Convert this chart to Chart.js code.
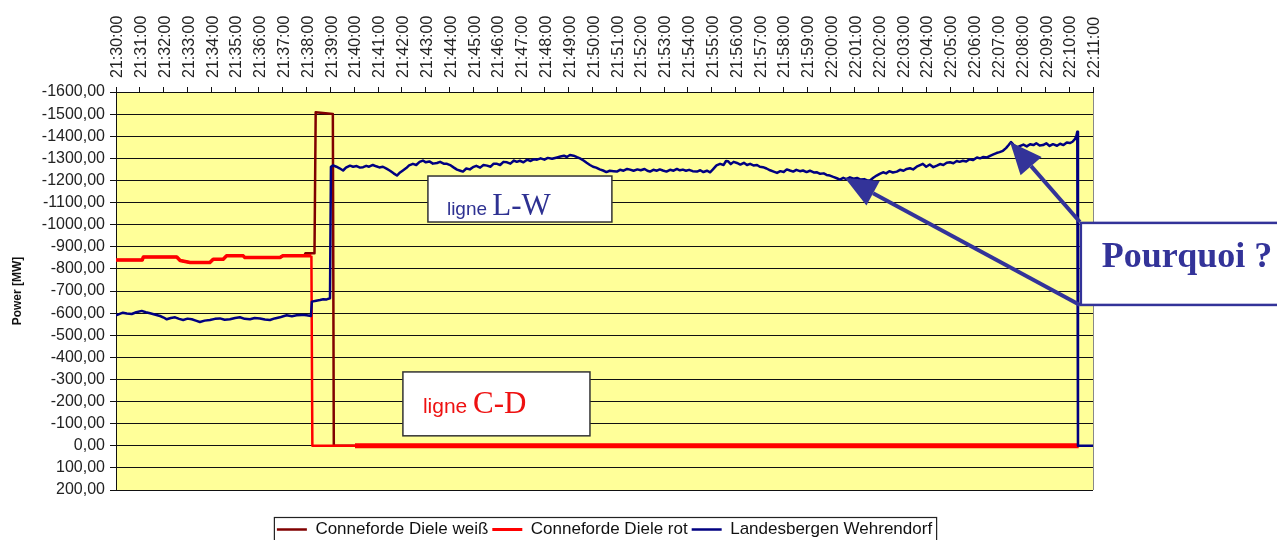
<!DOCTYPE html>
<html>
<head>
<meta charset="utf-8">
<script src="https://cdn.jsdelivr.net/npm/chart.js@4.4.0/dist/chart.umd.min.js"></script>
<style>
  html, body { margin: 0; padding: 0; background: #fff; }
  #wrap { position: relative; width: 1277px; height: 540px; }
</style>
</head>
<body>
<div id="wrap"><canvas id="powerChart" width="1277" height="540"></canvas></div>
<script>
// Time axis: minutes after 21:30:00
const tickLabels = [
  "21:30:00", "21:31:00", "21:32:00", "21:33:00", "21:34:00", "21:35:00", "21:36:00",
  "21:37:00", "21:38:00", "21:39:00", "21:40:00", "21:41:00", "21:42:00", "21:43:00",
  "21:44:00", "21:45:00", "21:46:00", "21:47:00", "21:48:00", "21:49:00", "21:50:00",
  "21:51:00", "21:52:00", "21:53:00", "21:54:00", "21:55:00", "21:56:00", "21:57:00",
  "21:58:00", "21:59:00", "22:00:00", "22:01:00", "22:02:00", "22:03:00", "22:04:00",
  "22:05:00", "22:06:00", "22:07:00", "22:08:00", "22:09:00", "22:10:00", "22:11:00"
];

const seriesNames = ["Conneforde Diele weiß", "Conneforde Diele rot", "Landesbergen Wehrendorf"];

// Conneforde Diele weiß (mostly hidden behind "rot" until the trip)
const weissMinutes = [0, 1.10, 1.15, 2.55, 2.69, 3.11, 3.94, 4.08, 4.50, 4.64, 5.34, 5.41, 6.88, 7.00, 7.90,
  7.95, 8.33, 8.38, 9.10, 9.14, 40.40];
const weissValues = [-840, -840, -854, -854, -838, -829, -829, -844, -844, -859, -859, -851, -851, -859, -859,
  -871, -871, -1508, -1500, 0, 0];

// Conneforde Diele rot
const rotMinutes = [0, 1.10, 1.15, 2.55, 2.69, 3.11, 3.94, 4.08, 4.50, 4.64, 5.34, 5.41, 6.88, 7.00, 8.20,
  8.24, 10.03, 40.40];
const rotValues = [-840, -840, -854, -854, -838, -829, -829, -844, -844, -859, -859, -851, -851, -859, -859,
  0, 0, 0];

// Landesbergen Wehrendorf
const lwMinutes = [
  0.00, 0.29, 0.45, 0.66, 0.85, 1.08, 1.25, 1.43, 1.62, 1.85, 2.00, 2.13, 2.30, 2.48, 2.65, 2.82,
  3.00, 3.18, 3.35, 3.52, 3.72, 3.94, 4.15, 4.36, 4.56, 4.78, 5.00, 5.20, 5.40, 5.62, 5.82, 6.04,
  6.25, 6.46, 6.66, 6.88, 7.02, 7.16, 7.38, 7.58, 7.80, 8.00, 8.18, 8.22, 8.40, 8.56, 8.70, 8.84,
  8.98, 9.02, 9.11, 9.25, 9.38, 9.53, 9.65, 9.82, 9.95, 10.10, 10.24, 10.37, 10.50, 10.62, 10.78,
  10.92, 11.05, 11.20, 11.37, 11.50, 11.65, 11.79, 11.92, 12.04, 12.18, 12.30, 12.46, 12.60, 12.74,
  12.88, 13.00, 13.15, 13.30, 13.47, 13.60, 13.75, 13.89, 14.05, 14.18, 14.31, 14.45, 14.56, 14.70,
  14.85, 14.98, 15.12, 15.28, 15.42, 15.57, 15.72, 15.85, 15.99, 16.12, 16.26, 16.41, 16.55, 16.70,
  16.82, 16.95, 17.10, 17.25, 17.40, 17.55, 17.67, 17.82, 17.98, 18.12, 18.30, 18.51, 18.65, 18.80,
  18.92, 19.05, 19.20, 19.35, 19.47, 19.62, 19.75, 19.89, 20.02, 20.15, 20.30, 20.44, 20.58, 20.72,
  20.88, 21.02, 21.15, 21.30, 21.45, 21.57, 21.72, 21.88, 22.02, 22.18, 22.30, 22.41, 22.55, 22.70,
  22.82, 22.95, 23.10, 23.25, 23.40, 23.54, 23.66, 23.79, 23.92, 24.05, 24.20, 24.38, 24.52, 24.65,
  24.80, 24.93, 25.05, 25.20, 25.35, 25.50, 25.60, 25.68, 25.80, 25.92, 26.06, 26.20, 26.35, 26.48,
  26.61, 26.75, 26.90, 27.02, 27.15, 27.30, 27.45, 27.60, 27.74, 27.88, 28.02, 28.15, 28.28, 28.42,
  28.55, 28.70, 28.83, 28.98, 29.12, 29.28, 29.42, 29.55, 29.70, 29.82, 29.96, 30.10, 30.25, 30.38,
  30.52, 30.65, 30.80, 30.95, 31.10, 31.25, 31.40, 31.52, 31.64, 31.78, 31.92, 32.05, 32.19, 32.32,
  32.45, 32.60, 32.77, 32.90, 33.05, 33.18, 33.32, 33.45, 33.60, 33.72, 33.86, 34.00, 34.15, 34.30,
  34.45, 34.58, 34.72, 34.86, 35.00, 35.14, 35.28, 35.40, 35.54, 35.68, 35.82, 35.96, 36.13, 36.26,
  36.40, 36.55, 36.68, 36.82, 36.95, 37.08, 37.22, 37.35, 37.46, 37.56, 37.66, 37.81, 37.95, 38.08,
  38.22, 38.36, 38.50, 38.62, 38.76, 38.90, 39.04, 39.18, 39.32, 39.49, 39.62, 39.76, 39.90, 40.03,
  40.14, 40.24, 40.30, 40.34, 40.37, 41.00
];
const lwValues = [
  -590, -602, -598, -596, -604, -610, -604, -599, -594, -587, -580, -572, -578, -581, -574, -569,
  -575, -572, -566, -560, -566, -569, -574, -576, -570, -572, -578, -581, -574, -572, -578, -576,
  -571, -569, -576, -581, -586, -590, -586, -590, -592, -590, -587, -652, -656, -659, -663, -662,
  -667, -1262, -1268, -1262, -1255, -1245, -1258, -1267, -1262, -1265, -1258, -1260, -1266, -1262, -1270,
  -1264, -1259, -1262, -1252, -1244, -1232, -1222, -1236, -1245, -1256, -1268, -1275, -1270, -1284,
  -1290, -1282, -1286, -1276, -1279, -1284, -1276, -1275, -1268, -1258, -1249, -1244, -1240, -1254,
  -1250, -1260, -1266, -1258, -1270, -1267, -1262, -1276, -1275, -1270, -1284, -1282, -1276, -1290,
  -1284, -1289, -1282, -1294, -1288, -1296, -1294, -1300, -1294, -1302, -1298, -1304, -1308, -1312,
  -1306, -1315, -1312, -1305, -1300, -1290, -1280, -1270, -1262, -1258, -1250, -1245, -1238, -1244,
  -1242, -1240, -1248, -1244, -1252, -1249, -1244, -1250, -1246, -1252, -1244, -1240, -1248, -1244,
  -1250, -1245, -1240, -1248, -1244, -1252, -1246, -1249, -1244, -1248, -1242, -1240, -1246, -1238,
  -1244, -1237, -1250, -1268, -1275, -1270, -1288, -1287, -1274, -1284, -1279, -1272, -1280, -1270,
  -1275, -1268, -1270, -1262, -1260, -1254, -1246, -1240, -1234, -1242, -1238, -1250, -1245, -1240,
  -1248, -1242, -1245, -1238, -1244, -1236, -1237, -1230, -1232, -1225, -1222, -1216, -1210, -1204,
  -1212, -1206, -1214, -1208, -1211, -1204, -1206, -1200, -1200, -1212, -1222, -1230, -1237, -1232,
  -1242, -1236, -1240, -1248, -1244, -1252, -1255, -1250, -1262, -1268, -1275, -1262, -1272, -1260,
  -1267, -1274, -1270, -1280, -1282, -1278, -1288, -1284, -1289, -1286, -1296, -1292, -1304, -1300,
  -1306, -1304, -1311, -1318, -1324, -1328, -1334, -1346, -1360, -1374, -1362, -1349, -1356, -1362,
  -1354, -1364, -1360, -1368, -1358, -1360, -1368, -1356, -1364, -1357, -1366, -1360, -1372, -1369,
  -1375, -1387, -1400, -1420, 0, 0
];

const FONT = "'Liberation Sans', Arial, sans-serif";
const SERIF = "'Liberation Serif', 'Times New Roman', serif";
const NOTE_BLUE = "#333399";

// Call-out boxes, placed in data units (minutes, MW)
const noteBoxes = [
  { from: 13.09, to: 20.81, top: -1220, bottom: -1012, padX: 19, baseline: 7,
    parts: [
      { text: "ligne ", font: "19px " + FONT, color: "#2e3192" },
      { text: "L-W", font: "31px " + SERIF, color: "#2e3192" }
    ] },
  { from: 12.04, to: 19.89, top: -334, bottom: -45, padX: 20, baseline: 23,
    parts: [
      { text: "ligne ", font: "21px " + FONT, color: "#ee1111" },
      { text: "C-D", font: "31px " + SERIF, color: "#ee1111" }
    ] },
  { from: 40.49, to: 50, top: -1008, bottom: -637, padX: 21, baseline: 38, border: NOTE_BLUE, borderWidth: 2.5,
    parts: [
      { text: "Pourquoi ?", font: "bold 36px " + SERIF, color: NOTE_BLUE }
    ] }
];
const noteArrows = [
  { fromX: 40.45, fromY: -1012, toX: 37.52, toY: -1374 },
  { fromX: 40.45, fromY: -637, toX: 30.59, toY: -1211 }
];

const toPoints = (xs, ys) => xs.map((x, i) => ({ x, y: ys[i] }));
const fmtMW = (v) => v.toFixed(2).replace(".", ",");

// Yellow plot background
const plotBackground = {
  id: "plotBackground",
  beforeDraw(chart) {
    const { ctx, chartArea: a } = chart;
    ctx.save();
    ctx.fillStyle = "#fff";
    ctx.fillRect(0, 0, chart.width, chart.height);
    ctx.fillStyle = "#ffff99";
    ctx.fillRect(a.left, a.top, a.right - a.left, a.bottom - a.top);
    ctx.strokeStyle = "#888";
    ctx.lineWidth = 1;
    ctx.beginPath();
    ctx.moveTo(a.right + 0.5, a.top);
    ctx.lineTo(a.right + 0.5, a.bottom);
    ctx.stroke();
    ctx.restore();
  }
};

function drawArrow(ctx, x1, y1, x2, y2) {
  const ang = Math.atan2(y2 - y1, x2 - x1);
  const headLen = 32, headHalf = 14;
  const bx = x2 - Math.cos(ang) * headLen, by = y2 - Math.sin(ang) * headLen;
  ctx.beginPath();
  ctx.moveTo(x1, y1);
  ctx.lineTo(bx, by);
  ctx.stroke();
  ctx.beginPath();
  ctx.moveTo(x2, y2);
  ctx.lineTo(bx + Math.sin(ang) * headHalf, by - Math.cos(ang) * headHalf);
  ctx.lineTo(bx - Math.sin(ang) * headHalf, by + Math.cos(ang) * headHalf);
  ctx.closePath();
  ctx.fill();
}

// Text boxes + arrows drawn over the lines
const notes = {
  id: "notes",
  afterDatasetsDraw(chart) {
    const { ctx, scales: { x, y } } = chart;
    ctx.save();
    noteBoxes.forEach((b) => {
      const l = x.getPixelForValue(b.from), r = x.getPixelForValue(b.to);
      const t = y.getPixelForValue(b.top), bo = y.getPixelForValue(b.bottom);
      ctx.fillStyle = "#fff";
      ctx.fillRect(l, t, r - l, bo - t);
      ctx.strokeStyle = b.border || "#333";
      ctx.lineWidth = b.borderWidth || 1.5;
      ctx.strokeRect(l, t, r - l, bo - t);
      let tx = l + b.padX;
      ctx.textBaseline = "alphabetic";
      ctx.textAlign = "left";
      b.parts.forEach((p) => {
        ctx.font = p.font;
        ctx.fillStyle = p.color;
        ctx.fillText(p.text, tx, bo - b.baseline);
        tx += ctx.measureText(p.text).width;
      });
    });
    ctx.strokeStyle = NOTE_BLUE;
    ctx.fillStyle = NOTE_BLUE;
    ctx.lineWidth = 4;
    noteArrows.forEach((a) => {
      drawArrow(ctx,
        x.getPixelForValue(a.fromX), y.getPixelForValue(a.fromY),
        x.getPixelForValue(a.toX), y.getPixelForValue(a.toY));
    });
    ctx.restore();
  }
};

// Frame around the legend, Excel style
const legendFrame = {
  id: "legendFrame",
  afterDraw(chart) {
    const boxes = chart.legend && chart.legend.legendHitBoxes;
    if (!boxes || !boxes.length) return;
    const last = boxes[boxes.length - 1];
    const left = boxes[0].left - 3;
    const right = last.left + last.width + 4;
    const top = boxes[0].top - 4;
    const ctx = chart.ctx;
    ctx.save();
    ctx.strokeStyle = "#222";
    ctx.lineWidth = 1.2;
    ctx.strokeRect(left + 0.5, top + 0.5, right - left, 40);
    ctx.restore();
  }
};

const RED_THICK_FROM = 10.0;

new Chart(document.getElementById("powerChart"), {
  type: "line",
  data: {
    datasets: [
      {
        label: seriesNames[0],
        data: toPoints(weissMinutes, weissValues),
        borderColor: "#800000",
        borderWidth: 2.5,
        order: 2
      },
      {
        label: seriesNames[1],
        data: toPoints(rotMinutes, rotValues),
        borderColor: "#ff0000",
        borderWidth: 3,
        order: 1,
        segment: {
          borderWidth: (c) => c.p0.parsed.x >= RED_THICK_FROM ? 5 : (c.p1.parsed.x <= 8.2 ? 3.5 : 2.5)
        }
      },
      {
        label: seriesNames[2],
        data: toPoints(lwMinutes, lwValues),
        borderColor: "#000080",
        borderWidth: 2.5,
        order: 0
      }
    ]
  },
  options: {
    responsive: false,
    animation: false,
    devicePixelRatio: 1,
    layout: { padding: { left: 0, top: 0, right: 184, bottom: -8 } },
    elements: {
      point: { radius: 0, hoverRadius: 0 },
      line: { tension: 0, borderJoinStyle: "round", fill: false }
    },
    plugins: {
      tooltip: { enabled: false },
      legend: {
        position: "bottom",
        fullSize: false,
        labels: {
          usePointStyle: true,
          pointStyle: "line",
          pointStyleWidth: 30,
          padding: 4,
          color: "#111",
          font: { size: 17, family: FONT },
          sort: (a, b) => a.datasetIndex - b.datasetIndex
        }
      }
    },
    scales: {
      x: {
        type: "linear",
        position: "top",
        min: 0,
        max: 41,
        afterFit: (s) => { s.height = 92; },
        grid: { drawOnChartArea: false, tickLength: 5, color: "#111" },
        border: { color: "#111", width: 1 },
        ticks: {
          stepSize: 1,
          autoSkip: false,
          minRotation: 90,
          maxRotation: 90,
          padding: 9,
          labelOffset: 21,
          color: "#222",
          font: { size: 16, family: FONT },
          callback: (v) => tickLabels[Math.round(v)]
        }
      },
      xb: {
        type: "linear",
        position: "bottom",
        min: 0,
        max: 41,
        afterFit: (s) => { s.height = 27; },
        grid: { display: false, drawTicks: false },
        border: { display: false },
        ticks: { display: false }
      },
      y: {
        type: "linear",
        reverse: true,
        min: -1600,
        max: 200,
        afterFit: (s) => { s.width = 116; },
        grid: { color: "#111", lineWidth: 1, tickLength: 6, tickColor: "#111" },
        border: { color: "#111", width: 1 },
        ticks: {
          stepSize: 100,
          autoSkip: false,
          padding: 5,
          color: "#222",
          font: { size: 16, family: FONT },
          callback: (v) => fmtMW(v)
        },
        title: {
          display: true,
          text: "Power [MW]",
          color: "#111",
          font: { size: 12, weight: "bold", family: FONT },
          padding: { top: 10, bottom: 0 }
        }
      }
    }
  },
  plugins: [plotBackground, notes, legendFrame]
});
</script>
</body>
</html>
